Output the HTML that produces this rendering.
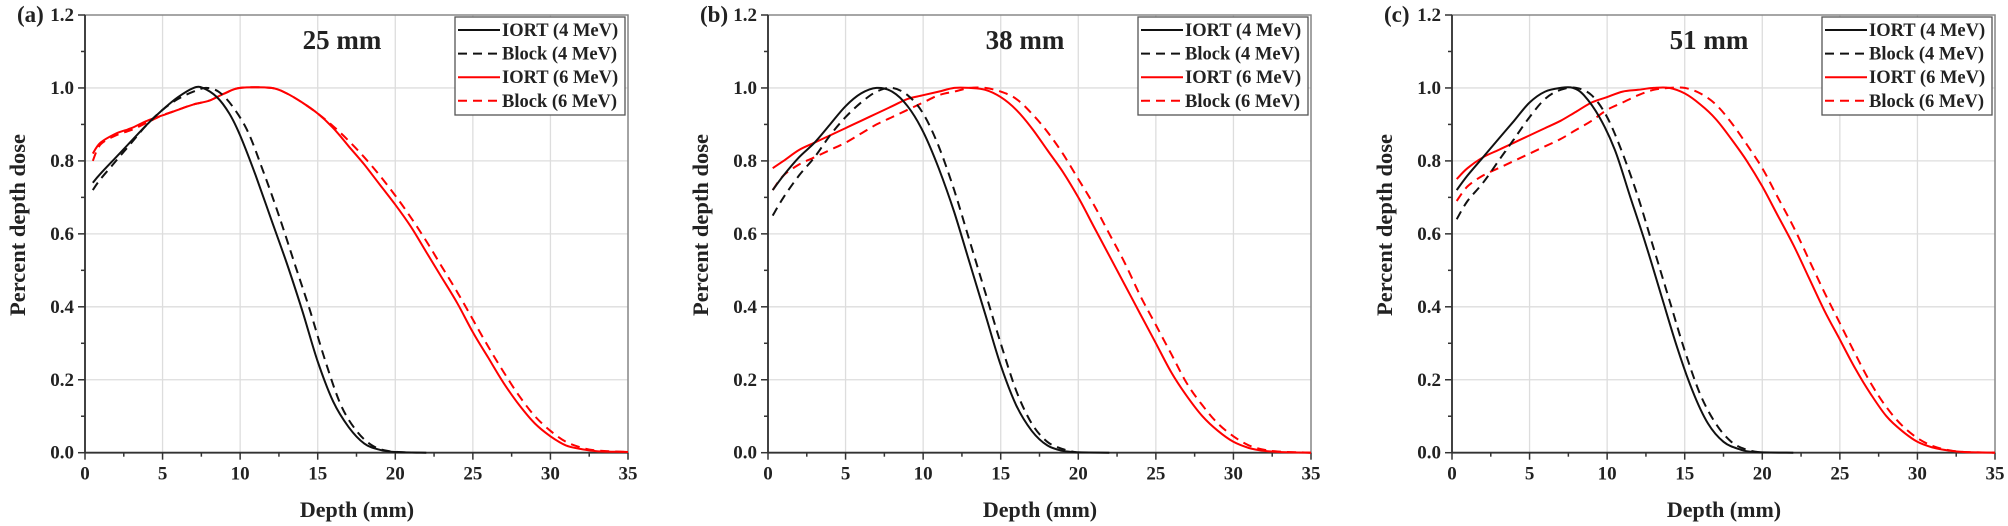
<!DOCTYPE html>
<html><head><meta charset="utf-8"><style>
html,body{margin:0;padding:0;background:#fff;}
svg{display:block;}
text{font-family:"Liberation Serif",serif;font-weight:bold;}
</style></head><body>
<svg id="s" width="2008" height="526" xmlns="http://www.w3.org/2000/svg"></svg>
<script>
const S=document.getElementById('s');
const Y0=452.7,YT=15,W=543;
const data={
a:{t:'25 mm',l:'(a)',
i4:[[0.5,.74],[1,.765],[2,.81],[3,.855],[4,.9],[5,.94],[6,.975],[7,1],[7.6,1],[8.5,.975],[9.3,.93],[10,.87],[11,.76],[12,.64],[13,.52],[14,.39],[15,.25],[16,.14],[17,.07],[18,.025],[19,.008],[20,.002],[22,0]],
b4:[[0.5,.72],[1,.75],[2,.8],[3,.85],[4,.9],[5,.94],[6,.97],[7,.99],[7.8,1],[8.6,.99],[9.5,.95],[10.5,.88],[11.5,.77],[12.5,.65],[13.5,.52],[14.5,.39],[15.5,.25],[16.5,.13],[17.5,.06],[18.5,.02],[19.5,.005],[21,0]],
i6:[[0.5,.82],[1,.85],[2,.875],[3,.89],[4,.91],[5,.925],[6,.94],[7,.955],[8,.965],[9,.985],[10,1],[12,1],[13,.985],[14,.96],[15,.93],[16,.89],[17,.84],[18,.79],[19,.735],[20,.68],[21,.62],[22,.55],[23,.48],[24,.41],[25,.33],[26,.26],[27,.19],[28,.13],[29,.08],[30,.045],[31,.02],[32,.01],[33,.004],[35,.002]],
b6:[[0.5,.8],[1,.845],[2,.87],[3,.885],[4,.905],[5,.925],[6,.94],[7,.955],[8,.965],[9,.985],[10,1],[12,1],[13,.985],[14,.96],[15,.93],[16,.895],[17,.855],[18,.81],[19,.76],[20,.705],[21,.645],[22,.58],[23,.51],[24,.44],[25,.365],[26,.29],[27,.22],[28,.155],[29,.1],[30,.06],[31,.03],[32,.014],[33,.006],[35,.002]]},
b:{t:'38 mm',l:'(b)',
i4:[[0.3,.72],[1,.76],[2,.81],[3,.85],[4,.9],[5,.95],[6,.985],[7,1],[8,.99],[9,.95],[10,.88],[11,.78],[12,.66],[13,.52],[14,.38],[15,.24],[16,.13],[17,.06],[18,.02],[19,.005],[20,.001],[22,0]],
b4:[[0.3,.65],[1,.7],[2,.76],[3,.81],[4,.87],[5,.92],[6,.96],[7,.99],[8,1],[9,.98],[10,.93],[11,.84],[12,.72],[13,.58],[14,.44],[15,.3],[16,.17],[17,.08],[18,.03],[19,.01],[20,0]],
i6:[[0.3,.78],[1,.8],[2,.83],[3,.85],[4,.87],[5,.89],[6,.91],[7,.93],[8,.95],[9,.97],[10,.98],[11,.99],[12,1],[13,1],[14,.995],[15,.975],[16,.94],[17,.89],[18,.83],[19,.77],[20,.7],[21,.62],[22,.54],[23,.46],[24,.38],[25,.3],[26,.22],[27,.155],[28,.1],[29,.06],[30,.03],[31,.013],[32,.005],[33,.002],[35,0]],
b6:[[0.3,.72],[1,.76],[2,.79],[3,.81],[4,.83],[5,.85],[6,.875],[7,.9],[8,.92],[9,.94],[10,.96],[11,.98],[12,.99],[13,1],[14,1],[15,.99],[16,.97],[17,.93],[18,.88],[19,.82],[20,.75],[21,.68],[22,.6],[23,.52],[24,.43],[25,.35],[26,.27],[27,.19],[28,.13],[29,.08],[30,.045],[31,.02],[32,.008],[33,.003],[35,0]]},
c:{t:'51 mm',l:'(c)',
i4:[[0.3,.72],[1,.76],[2,.81],[3,.86],[4,.91],[5,.96],[6,.99],[7,1],[7.8,1],[8.5,.98],[9.5,.92],[10.5,.83],[11.5,.7],[12.5,.57],[13.5,.43],[14.5,.29],[15.5,.17],[16.5,.08],[17.5,.03],[18.5,.01],[19.5,.002],[22,0]],
b4:[[0.3,.64],[1,.69],[2,.74],[3,.8],[4,.86],[5,.92],[6,.97],[7,.995],[8,1],[9,.98],[10,.92],[11,.82],[12,.7],[13,.56],[14,.42],[15,.28],[16,.16],[17,.08],[18,.03],[19,.008],[20,0]],
i6:[[0.3,.75],[1,.78],[2,.81],[3,.83],[4,.85],[5,.87],[6,.89],[7,.91],[8,.935],[9,.96],[10,.975],[11,.99],[12,.995],[13,1],[14,1],[15,.985],[16,.955],[17,.915],[18,.86],[19,.8],[20,.73],[21,.65],[22,.57],[23,.48],[24,.39],[25,.31],[26,.23],[27,.16],[28,.1],[29,.06],[30,.03],[31,.014],[32,.006],[33,.002],[35,0]],
b6:[[0.3,.69],[1,.73],[2,.76],[3,.78],[4,.8],[5,.82],[6,.84],[7,.86],[8,.885],[9,.91],[10,.94],[11,.96],[12,.98],[13,.995],[14,1],[15,1],[16,.985],[17,.955],[18,.905],[19,.845],[20,.78],[21,.7],[22,.62],[23,.53],[24,.44],[25,.355],[26,.27],[27,.19],[28,.125],[29,.075],[30,.04],[31,.018],[32,.007],[33,.002],[35,0]]}
};
let h='';
function path(pts,X){const P=pts.map(p=>[X+p[0]*W/35,Y0-p[1]*(Y0-YT)/1.2]);
 let d='M'+P[0][0].toFixed(1)+' '+P[0][1].toFixed(1);
 for(let i=0;i<P.length-1;i++){const p0=P[Math.max(0,i-1)],p1=P[i],p2=P[i+1],p3=P[Math.min(P.length-1,i+2)];
  const c1=[p1[0]+(p2[0]-p0[0])/6,p1[1]+(p2[1]-p0[1])/6],c2=[p2[0]-(p3[0]-p1[0])/6,p2[1]-(p3[1]-p1[1])/6];
  d+=` C${c1[0].toFixed(1)} ${c1[1].toFixed(1)} ${c2[0].toFixed(1)} ${c2[1].toFixed(1)} ${p2[0].toFixed(1)} ${p2[1].toFixed(1)}`;}
 return d;}
[['a',85],['b',768],['c',1452]].forEach(([k,X])=>{const D=data[k];const R=X+W;
 for(let i=1;i<=7;i++){const x=X+i*W/7;h+=`<line x1="${x}" y1="${YT}" x2="${x}" y2="${Y0}" stroke="#ddd" stroke-width="1.3"/>`;}
 for(let i=1;i<=5;i++){const y=Y0-i*(Y0-YT)/6;h+=`<line x1="${X}" y1="${y}" x2="${R}" y2="${y}" stroke="#ddd" stroke-width="1.3"/>`;}
 h+=`<rect x="${X}" y="${YT}" width="${W}" height="${Y0-YT}" fill="none" stroke="#888" stroke-width="1.5"/>`;
 h+=`<line x1="${X}" y1="${YT}" x2="${X}" y2="${Y0}" stroke="#333" stroke-width="1.8"/><line x1="${X}" y1="${Y0}" x2="${R}" y2="${Y0}" stroke="#333" stroke-width="1.8"/>`;
 for(let i=0;i<=14;i++){const x=X+i*W/14;h+=`<line x1="${x}" y1="${Y0}" x2="${x}" y2="${Y0+(i%2?4:7)}" stroke="#333" stroke-width="1.5"/>`;
  if(i%2==0)h+=`<text x="${x}" y="${Y0+27}" font-size="19" text-anchor="middle" fill="#222">${i*2.5}</text>`;}
 for(let i=0;i<=12;i++){const y=Y0-i*(Y0-YT)/12;h+=`<line x1="${X}" y1="${y}" x2="${X-(i%2?4:7)}" y2="${y}" stroke="#333" stroke-width="1.5"/>`;
  if(i%2==0)h+=`<text x="${X-11}" y="${y+6}" font-size="19" text-anchor="end" fill="#222">${(i/10).toFixed(1)}</text>`;}
 h+=`<text x="${X-68}" y="22" font-size="23" fill="#222">${D.l}</text>`;
 h+=`<text transform="translate(${X-60},225) rotate(-90)" font-size="22.5" text-anchor="middle" fill="#222">Percent depth dose</text>`;
 h+=`<text x="${X+272}" y="517" font-size="22" text-anchor="middle" fill="#222">Depth (mm)</text>`;
 h+=`<text x="${X+257}" y="49" font-size="27" text-anchor="middle" fill="#222">${D.t}</text>`;
 h+=`<path d="${path(D.b6,X)}" fill="none" stroke="#f00" stroke-width="2" stroke-dasharray="9,6"/>`;
 h+=`<path d="${path(D.i6,X)}" fill="none" stroke="#f00" stroke-width="2"/>`;
 h+=`<path d="${path(D.b4,X)}" fill="none" stroke="#111" stroke-width="2" stroke-dasharray="9,6"/>`;
 h+=`<path d="${path(D.i4,X)}" fill="none" stroke="#111" stroke-width="2"/>`;
 const LX=X+370;h+=`<rect x="${LX}" y="17" width="170" height="98" fill="#fff" stroke="#555" stroke-width="1.3"/>`;
 [['IORT (4 MeV)','#111',0],['Block (4 MeV)','#111',1],['IORT (6 MeV)','#f00',0],['Block (6 MeV)','#f00',1]].forEach((e,j)=>{const y=30+j*23.6;
  h+=`<line x1="${LX+3}" y1="${y}" x2="${LX+45}" y2="${y}" stroke="${e[1]}" stroke-width="2" ${e[2]?'stroke-dasharray="9,6"':''}/>`;
  h+=`<text x="${LX+47}" y="${y+6}" font-size="18.5" fill="#222">${e[0]}</text>`;});
});
S.innerHTML=h;
</script>
</body></html>
